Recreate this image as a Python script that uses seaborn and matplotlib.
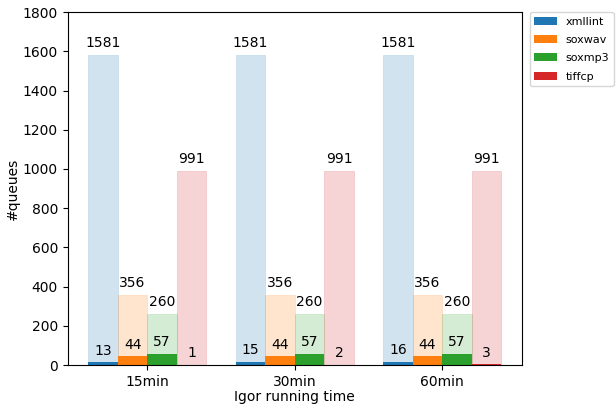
import seaborn as sns
import pandas as pd
import matplotlib
matplotlib.use("Agg")
import matplotlib.pyplot as plt

durations = ["15min", "30min", "60min"]
programs = ["xmllint", "soxwav", "soxmp3", "tiffcp"]
# total queues (light bars) and queues found by Igor (solid bars)
total_queues = {"xmllint": [1581, 1581, 1581], "soxwav": [356, 356, 356],
                "soxmp3": [260, 260, 260], "tiffcp": [991, 991, 991]}
igor_queues = {"xmllint": [13, 15, 16], "soxwav": [44, 44, 44],
               "soxmp3": [57, 57, 57], "tiffcp": [1, 2, 3]}
colors = ["#1f77b4", "#ff7f0e", "#2ca02c", "#d62728"]


def to_long(d):
    rows = []
    for p in programs:
        for t, v in zip(durations, d[p]):
            rows.append({"time": t, "program": p, "queues": v})
    return pd.DataFrame(rows)


df_total = to_long(total_queues)
df_igor = to_long(igor_queues)

fig, ax = plt.subplots(figsize=(6.16, 4.04), dpi=100)
sns.barplot(data=df_total, x="time", y="queues", hue="program", order=durations,
            hue_order=programs, palette=colors, saturation=1, alpha=0.2,
            linewidth=0.5, legend=False, errorbar=None, ax=ax)
# light bars keep a faint outline in their own colour
for cont in ax.containers:
    for p in cont:
        p.set_edgecolor(p.get_facecolor())
sns.barplot(data=df_igor, x="time", y="queues", hue="program", order=durations,
            hue_order=programs, palette=colors, saturation=1,
            linewidth=0, errorbar=None, ax=ax)

for c in ax.containers:
    ax.bar_label(c, fontsize=10, padding=3.5)

ax.set_ylim(0, 1800)
ax.set_xlim(-0.54, 2.54)
ax.set_xlabel("Igor running time", labelpad=1)
ax.set_ylabel("#queues", labelpad=2)
ax.legend(loc="upper left", bbox_to_anchor=(1.018, 1.0), borderaxespad=0,
          fontsize=8, labelspacing=0.75)
plt.subplots_adjust(left=0.110, right=0.847, bottom=0.0965, top=0.970)
plt.savefig("out.png")
